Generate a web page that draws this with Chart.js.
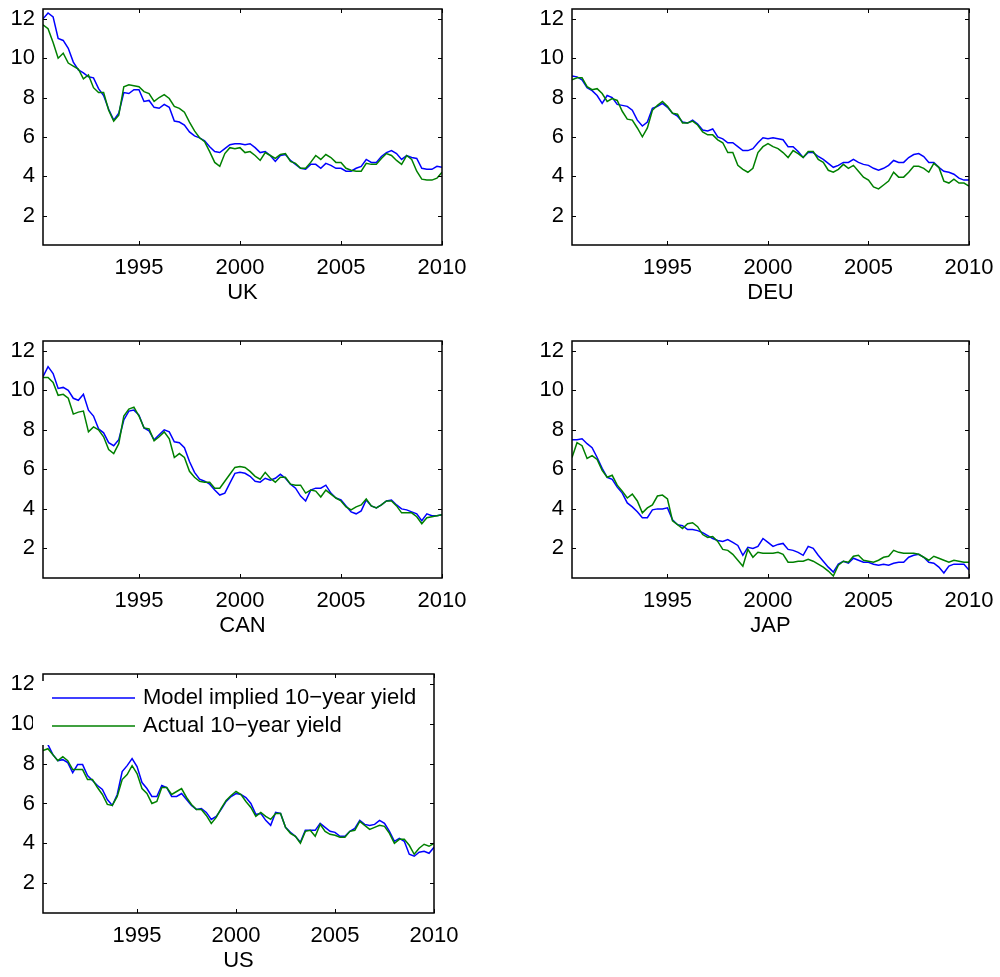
<!DOCTYPE html>
<html>
<head>
<meta charset="utf-8">
<script src="https://cdn.jsdelivr.net/npm/chart.js@4.4.1/dist/chart.umd.min.js"></script>
<style>
  html, body { margin: 0; background: #fff; }
  #fig { position: relative; width: 1000px; height: 977px; overflow: hidden; }
  #fig canvas { position: absolute; }
</style>
</head>
<body>
<div id="fig"></div>
<script>
// quarterly observations, 1990Q1 (plotted at 1990.25) to 2009Q4 (2010.0)
const firstQuarter = 1990.25;
const xTicks = [1995, 2000, 2005, 2010];
const yTicks = [2, 4, 6, 8, 10, 12];
const seriesNames = ['Model implied 10\u2212year yield', 'Actual 10\u2212year yield'];

const ukModel = [
  12.0, 12.3, 12.1, 11.0, 10.9, 10.5, 9.8, 9.4, 9.25, 9.05,
  9.0, 8.45, 8.1, 7.4, 6.85, 7.2, 8.25, 8.2, 8.4, 8.4,
  7.8, 7.85, 7.5, 7.45, 7.65, 7.5, 6.8, 6.75, 6.6, 6.25,
  6.05, 5.95, 5.8, 5.5, 5.25, 5.2, 5.4, 5.6, 5.65, 5.65,
  5.6, 5.65, 5.45, 5.2, 5.25, 5.05, 4.75, 5.05, 5.1, 4.8,
  4.6, 4.4, 4.35, 4.6, 4.6, 4.4, 4.65, 4.55, 4.4, 4.4,
  4.25, 4.25, 4.4, 4.5, 4.85, 4.7, 4.7, 5.0, 5.2, 5.3,
  5.15, 4.85, 5.05, 4.95, 4.9, 4.4, 4.35, 4.35, 4.5, 4.45
];
const ukActual = [
  11.7, 11.5, 10.8, 10.0, 10.25, 9.75, 9.6, 9.45, 8.95, 9.15,
  8.5, 8.25, 8.25, 7.35, 6.8, 7.1, 8.55, 8.65, 8.6, 8.55,
  8.3, 8.2, 7.8, 8.0, 8.15, 7.95, 7.55, 7.45, 7.25, 6.75,
  6.3, 5.95, 5.75, 5.25, 4.7, 4.5, 5.15, 5.45, 5.4, 5.45,
  5.2, 5.25, 5.05, 4.8, 5.2, 5.05, 4.9, 5.1, 5.15, 4.75,
  4.65, 4.4, 4.4, 4.7, 5.05, 4.85, 5.1, 4.95, 4.7, 4.7,
  4.4, 4.3, 4.25, 4.25, 4.65, 4.6, 4.6, 4.9, 5.15, 5.05,
  4.8, 4.6, 5.05, 4.85, 4.25, 3.85, 3.8, 3.8, 3.9, 4.2
];

const deuModel = [
  9.1, 9.05, 8.9, 8.5, 8.35, 8.1, 7.7, 8.1, 8.0, 7.65,
  7.6, 7.55, 7.35, 6.85, 6.55, 6.75, 7.45, 7.55, 7.7, 7.5,
  7.2, 7.05, 6.75, 6.7, 6.85, 6.65, 6.35, 6.3, 6.4, 6.0,
  5.9, 5.7, 5.7, 5.5, 5.3, 5.3, 5.4, 5.7, 5.95, 5.9,
  5.95, 5.9, 5.85, 5.5, 5.5, 5.25, 4.95, 5.2, 5.2, 5.0,
  4.85, 4.65, 4.45, 4.55, 4.7, 4.7, 4.85, 4.7, 4.6, 4.55,
  4.4, 4.3, 4.4, 4.55, 4.8, 4.7, 4.7, 4.95, 5.1, 5.15,
  5.0, 4.7, 4.7, 4.45, 4.25, 4.2, 4.1, 3.9, 3.8, 3.8
];
const deuActual = [
  8.9, 9.0, 9.0, 8.55, 8.4, 8.45, 8.2, 7.8, 7.95, 7.85,
  7.3, 6.9, 6.85, 6.45, 6.0, 6.45, 7.35, 7.6, 7.8, 7.55,
  7.2, 7.15, 6.7, 6.7, 6.8, 6.6, 6.25, 6.1, 6.1, 5.85,
  5.7, 5.2, 5.2, 4.55, 4.35, 4.2, 4.4, 5.2, 5.5, 5.65,
  5.5, 5.4, 5.2, 4.95, 5.3, 5.15, 4.95, 5.25, 5.25, 4.85,
  4.7, 4.3, 4.2, 4.35, 4.6, 4.4, 4.55, 4.25, 3.95, 3.8,
  3.45, 3.35, 3.55, 3.75, 4.2, 3.95, 3.95, 4.2, 4.5, 4.5,
  4.4, 4.2, 4.65, 4.45, 3.75, 3.65, 3.85, 3.65, 3.65, 3.5
];

const canModel = [
  10.7, 11.2, 10.85, 10.1, 10.15, 10.0, 9.6, 9.5, 9.8, 9.0,
  8.7, 8.05, 7.85, 7.35, 7.2, 7.5, 8.5, 8.95, 9.0, 8.75,
  8.1, 7.95, 7.5, 7.75, 8.0, 7.9, 7.4, 7.35, 7.1, 6.4,
  5.85, 5.5, 5.4, 5.25, 4.95, 4.7, 4.8, 5.3, 5.8, 5.85,
  5.8, 5.65, 5.4, 5.35, 5.55, 5.45, 5.55, 5.75, 5.55, 5.25,
  5.05, 4.65, 4.4, 4.95, 5.05, 5.05, 5.2, 4.8, 4.55, 4.45,
  4.15, 3.85, 3.75, 3.9, 4.45, 4.15, 4.05, 4.2, 4.4, 4.45,
  4.2, 4.0, 3.95, 3.85, 3.75, 3.4, 3.75, 3.65, 3.65, 3.7
];
const canActual = [
  10.65, 10.65, 10.4, 9.75, 9.8, 9.6, 8.8, 8.9, 8.95, 7.9,
  8.15, 8.0, 7.65, 7.0, 6.8, 7.3, 8.7, 9.05, 9.15, 8.7,
  8.1, 8.05, 7.45, 7.65, 7.9, 7.55, 6.6, 6.8, 6.6, 5.9,
  5.6, 5.4, 5.35, 5.35, 5.05, 5.05, 5.4, 5.75, 6.1, 6.15,
  6.1, 5.9, 5.65, 5.5, 5.85, 5.55, 5.35, 5.6, 5.6, 5.25,
  5.2, 5.2, 4.8, 4.95, 4.9, 4.6, 4.95, 4.75, 4.55, 4.4,
  4.1, 3.95, 4.1, 4.2, 4.5, 4.15, 4.05, 4.2, 4.4, 4.4,
  4.15, 3.8, 3.8, 3.8, 3.6, 3.25, 3.55, 3.6, 3.65, 3.7
];

const japModel = [
  7.5, 7.5, 7.55, 7.3, 7.1, 6.6, 6.05, 5.6, 5.5, 5.1,
  4.8, 4.3, 4.1, 3.85, 3.55, 3.55, 3.95, 4.0, 4.0, 4.05,
  3.45, 3.2, 3.15, 2.95, 2.95, 2.9, 2.8, 2.65, 2.5, 2.4,
  2.35, 2.45, 2.3, 2.15, 1.65, 2.05, 2.0, 2.1, 2.5, 2.3,
  2.1, 2.2, 2.25, 1.95, 1.9, 1.8, 1.65, 2.1, 2.0, 1.65,
  1.35, 1.05, 0.8, 1.2, 1.35, 1.25, 1.5, 1.4, 1.3, 1.3,
  1.2, 1.15, 1.2, 1.15, 1.25, 1.3, 1.3, 1.55, 1.65, 1.7,
  1.55, 1.3, 1.25, 1.05, 0.75, 1.1, 1.2, 1.2, 1.2, 0.9
];
const japActual = [
  6.6, 7.35, 7.2, 6.55, 6.7, 6.5, 5.95, 5.6, 5.7, 5.2,
  4.9, 4.55, 4.75, 4.4, 3.8, 4.05, 4.2, 4.65, 4.7, 4.5,
  3.4, 3.2, 3.0, 3.25, 3.3, 3.1, 2.7, 2.55, 2.6, 2.35,
  1.95, 1.9, 1.7, 1.4, 1.1, 1.95, 1.55, 1.8, 1.75, 1.75,
  1.75, 1.8, 1.7, 1.3, 1.3, 1.35, 1.35, 1.45, 1.35, 1.2,
  1.05, 0.85, 0.6, 1.15, 1.35, 1.3, 1.6, 1.65, 1.4, 1.35,
  1.3, 1.4, 1.55, 1.6, 1.9, 1.8, 1.75, 1.75, 1.75, 1.7,
  1.55, 1.4, 1.6, 1.5, 1.4, 1.3, 1.4, 1.35, 1.3, 1.3
];

const usModel = [
  9.4, 8.95, 8.45, 8.15, 8.2, 8.05, 7.55, 7.95, 7.95, 7.4,
  7.15, 6.9, 6.7, 6.2, 5.9, 6.45, 7.6, 7.9, 8.25, 7.85,
  7.05, 6.75, 6.35, 6.35, 6.9, 6.8, 6.35, 6.35, 6.5, 6.2,
  5.9, 5.7, 5.75, 5.55, 5.2, 5.35, 5.7, 6.1, 6.35, 6.5,
  6.45, 6.3, 6.0, 5.45, 5.5, 5.15, 4.9, 5.55, 5.5, 4.8,
  4.55, 4.35, 4.05, 4.65, 4.65, 4.65, 5.0, 4.8, 4.6, 4.55,
  4.35, 4.35, 4.6, 4.75, 5.15, 4.95, 4.9, 4.95, 5.15, 5.0,
  4.6, 4.1, 4.25, 4.1, 3.45, 3.35, 3.55, 3.6, 3.5, 3.8
];
const usActual = [
  8.65, 8.75, 8.45, 8.15, 8.35, 8.15, 7.7, 7.7, 7.7, 7.2,
  7.2, 6.8, 6.45, 5.95, 5.9, 6.35, 7.2, 7.45, 7.9, 7.5,
  6.75, 6.5, 6.0, 6.1, 6.8, 6.8, 6.45, 6.6, 6.75, 6.3,
  5.95, 5.7, 5.7, 5.4, 5.0, 5.3, 5.75, 6.15, 6.4, 6.6,
  6.45, 6.1, 5.8, 5.35, 5.55, 5.35, 5.2, 5.5, 5.5, 4.8,
  4.5, 4.35, 4.0, 4.6, 4.65, 4.35, 4.95, 4.6, 4.45, 4.4,
  4.3, 4.3, 4.6, 4.65, 5.1, 4.9, 4.7, 4.8, 4.9, 4.85,
  4.5, 4.0, 4.2, 4.2, 3.9, 3.45, 3.75, 3.95, 3.85, 4.0
];

// plot box of each panel on the page: left, top, right, bottom
const panels = [
  { name: 'UK',  model: ukModel,  actual: ukActual,  box: [43, 9, 442, 245] },
  { name: 'DEU', model: deuModel, actual: deuActual, box: [572, 9, 969, 245] },
  { name: 'CAN', model: canModel, actual: canActual, box: [43, 341, 442, 578] },
  { name: 'JAP', model: japModel, actual: japActual, box: [572, 341, 969, 578] },
  { name: 'US',  model: usModel,  actual: usActual,  box: [43, 674, 434, 913], legend: true }
];

Chart.defaults.font.family = '"Liberation Sans", Arial, Helvetica, sans-serif';
Chart.defaults.color = '#000';

// matlab style axes: closed box, ticks pointing inwards on all four sides
const boxPlugin = {
  id: 'matlabBox',
  afterDatasetsDraw(chart) {
    const { ctx, chartArea: a, scales: { x, y } } = chart;
    const len = 4;
    ctx.save();
    ctx.strokeStyle = '#000';
    ctx.lineWidth = 1;
    ctx.beginPath();
    xTicks.forEach(v => {
      const px = Math.round(x.getPixelForValue(v)) + 0.5;
      ctx.moveTo(px, a.bottom); ctx.lineTo(px, a.bottom - len);
      ctx.moveTo(px, a.top); ctx.lineTo(px, a.top + len);
    });
    yTicks.forEach(v => {
      const py = Math.round(y.getPixelForValue(v)) + 0.5;
      ctx.moveTo(a.left, py); ctx.lineTo(a.left + len, py);
      ctx.moveTo(a.right, py); ctx.lineTo(a.right - len, py);
    });
    ctx.stroke();
    ctx.lineWidth = 1.5;
    ctx.strokeRect(a.left, a.top, a.right - a.left, a.bottom - a.top);
    ctx.restore();
  }
};

// legend sitting inside the US axes, white box without edge
const legendPlugin = {
  id: 'insideLegend',
  afterDraw(chart) {
    const { ctx, chartArea: a } = chart;
    ctx.save();
    ctx.fillStyle = '#fff';
    ctx.fillRect(a.left - 10, a.top + 7, 395, 64);
    ctx.font = '22px "Liberation Sans", Arial, sans-serif';
    ctx.textBaseline = 'middle';
    chart.data.datasets.forEach((ds, k) => {
      const yy = a.top + 24 + k * 28;
      ctx.strokeStyle = ds.borderColor;
      ctx.lineWidth = 1.5;
      ctx.beginPath();
      ctx.moveTo(a.left + 9, yy);
      ctx.lineTo(a.left + 92, yy);
      ctx.stroke();
      ctx.fillStyle = '#000';
      ctx.fillText(ds.label, a.left + 100, yy);
    });
    ctx.restore();
  }
};

function makePanel(p) {
  const [L, T, R, B] = p.box;
  const padTop = 24, padRight = 40, yW = 45, xH = 66;
  const canvas = document.createElement('canvas');
  canvas.width = R - L + yW + padRight;
  canvas.height = B - T + padTop + xH;
  canvas.style.left = (L - yW) + 'px';
  canvas.style.top = (T - padTop) + 'px';
  document.getElementById('fig').appendChild(canvas);

  const toPoints = vals => vals.map((v, i) => ({ x: firstQuarter + i * 0.25, y: v }));

  new Chart(canvas, {
    type: 'line',
    data: {
      datasets: [
        { label: seriesNames[0], data: toPoints(p.model), borderColor: '#0000ff', order: 1 },
        { label: seriesNames[1], data: toPoints(p.actual), borderColor: '#008000', order: 0 }
      ]
    },
    options: {
      responsive: false,
      animation: false,
      devicePixelRatio: 1,
      layout: { padding: { top: padTop, right: padRight, left: 0, bottom: 0 } },
      elements: {
        point: { radius: 0 },
        line: { borderWidth: 1.5, tension: 0, fill: false }
      },
      plugins: { legend: { display: false }, tooltip: { enabled: false } },
      scales: {
        x: {
          type: 'linear',
          min: firstQuarter,
          max: 2010,
          grid: { display: false, drawTicks: false },
          border: { display: false },
          afterBuildTicks: s => { s.ticks = xTicks.map(v => ({ value: v })); },
          afterFit: s => { s.height = xH; },
          ticks: { padding: 10, font: { size: 22 }, maxRotation: 0, callback: v => String(v) },
          title: { display: true, text: p.name, font: { size: 22 }, padding: { top: 0, bottom: 5 } }
        },
        y: {
          type: 'linear',
          min: 0.5,
          max: 12.5,
          grid: { display: false, drawTicks: false },
          border: { display: false },
          afterBuildTicks: s => { s.ticks = yTicks.map(v => ({ value: v })); },
          afterFit: s => { s.width = yW; },
          ticks: { padding: 8, font: { size: 22 }, callback: v => String(v) }
        }
      }
    },
    plugins: p.legend ? [boxPlugin, legendPlugin] : [boxPlugin]
  });
}

panels.forEach(makePanel);
</script>
</body>
</html>
